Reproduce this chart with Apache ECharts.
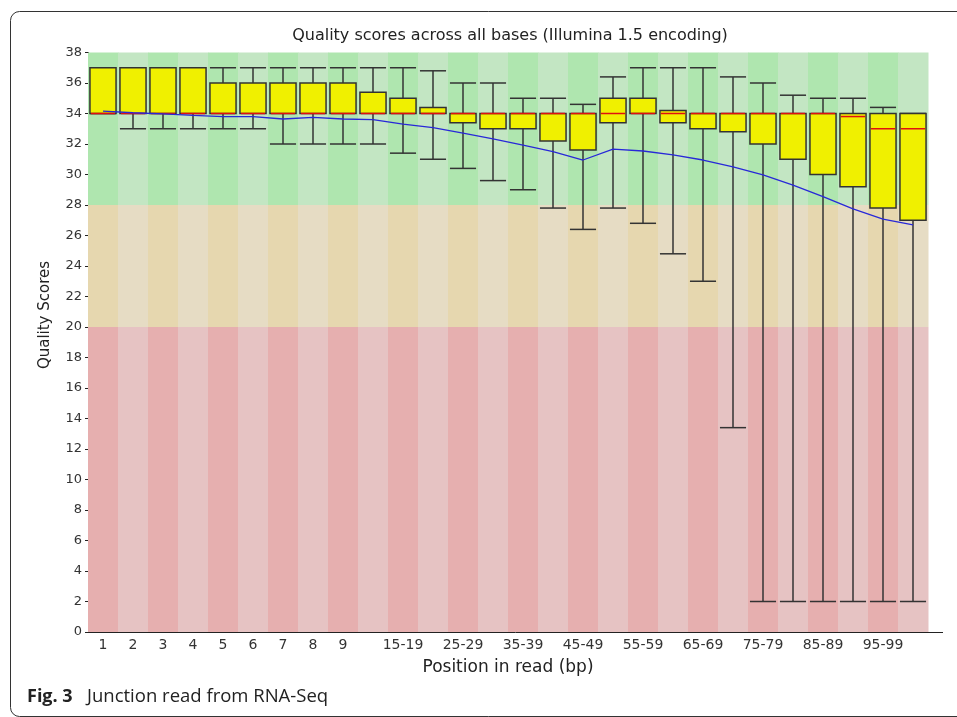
<!DOCTYPE html>
<html><head><meta charset="utf-8">
<script src="https://cdn.jsdelivr.net/npm/echarts@6/dist/echarts.min.js"></script>
<style>html,body{margin:0;padding:0;background:#fff}#c{width:957px;height:717px}</style>
</head><body><div id="c"></div>
<script>
const categories = ['1','2','3','4','5','6','7','8','9','10-14','15-19','20-24','25-29','30-34','35-39','40-44','45-49','50-54','55-59','60-64','65-69','70-74','75-79','80-84','85-89','90-94','95-99','100-101'];
const tickLabels = ['1','2','3','4','5','6','7','8','9','','15-19','','25-29','','35-39','','45-49','','55-59','','65-69','','75-79','','85-89','','95-99',''];
const lowerWhisker = [34,33,33,33,33,33,32,32,32,32,31.4,31.0,30.4,29.6,29.0,27.8,26.4,27.8,26.8,24.8,23,13.4,2,2,2,2,2,2];
const q1 = [34,34,34,34,34,34,34,34,34,34,34,34,33.4,33,33,32.2,31.6,33.4,34,33.4,33,32.8,32,31,30,29.2,27.8,27];
const median = [34,34,34,34,34,34,34,34,34,34,34,34,34,34,34,34,34,34,34,34,34,34,34,34,34,33.8,33,33];
const q3 = [37,37,37,37,36,36,36,36,36,35.4,35,34.4,34,34,34,34,34,35,35,34.2,34,34,34,34,34,34,34,34];
const upperWhisker = [37,37,37,37,37,37,37,37,37,37,37,36.8,36,36,35,35,34.6,36.4,37,37,37,36.4,36,35.2,35,35,34.4,34];
const mean = [34.16,34.05,33.97,33.88,33.8,33.8,33.64,33.75,33.64,33.6,33.3,33.07,32.72,32.33,31.93,31.5,30.95,31.67,31.54,31.28,30.95,30.5,29.97,29.3,28.55,27.74,27.08,26.69];
const yTicks = {min:0, max:38, interval:2};

const zones = [
  {from:0, to:20, colors:['#e6afaf','#e6c3c3']},
  {from:20, to:28, colors:['#e6d7af','#e6dcc4']},
  {from:28, to:38, colors:['#afe6af','#c3e6c3']}
];

const chart = echarts.init(document.getElementById('c'), null, {renderer:'canvas'});
const font = 'DejaVu Sans';

const bgData = categories.map((c,i)=>[i]);
const boxData = categories.map((c,i)=>[i, lowerWhisker[i], q1[i], median[i], q3[i], upperWhisker[i]]);

chart.setOption({
  animation:false,
  backgroundColor:'#fff',
  title:{
    text:'Quality scores across all bases (Illumina 1.5 encoding)',
    left:505, top:23, textAlign:'center',
    textStyle:{fontFamily:font, fontSize:16, fontWeight:'normal', color:'#222'}
  },
  grid:{left:88, right:29, top:52.5, bottom:85},
  xAxis:{
    type:'category', data:categories, boundaryGap:true,
    name:'Position in read (bp)', nameLocation:'middle', nameGap:27,
    nameTextStyle:{fontFamily:font, fontSize:17, color:'#222'},
    axisLine:{show:false}, axisTick:{show:false},
    axisLabel:{interval:0, margin:6, fontFamily:font, fontSize:14, color:'#333',
      formatter:(v,idx)=>tickLabels[idx]},
    splitLine:{show:false}
  },
  yAxis:{
    type:'value', min:yTicks.min, max:yTicks.max, interval:yTicks.interval,
    axisLine:{show:true, lineStyle:{color:'#222', width:1}},
    axisTick:{show:true, length:3, lineStyle:{color:'#222'}},
    axisLabel:{margin:6, fontFamily:font, fontSize:13, color:'#333'},
    splitLine:{show:false}
  },
  series:[
    {
      type:'custom', silent:true, z:1, data:bgData,
      renderItem(params, api){
        const i = api.value(0);
        const w = api.size([1,0])[0];
        const cx = api.coord([i,0])[0];
        return {type:'group', children: zones.map(z=>{
          const top = api.coord([i,z.to])[1], bot = api.coord([i,z.from])[1];
          return {type:'rect', shape:{x:cx-w/2, y:top, width:w+0.5, height:bot-top},
            style:{fill:z.colors[i%2]}};
        })};
      }
    },
    {
      type:'custom', silent:true, z:2, data:boxData,
      renderItem(params, api){
        const i = api.value(0);
        const bw = api.size([1,0])[0]*0.87;
        const x = api.coord([i,0])[0];
        const yl = api.coord([i,api.value(1)])[1];
        const y1 = api.coord([i,api.value(2)])[1];
        const ym = api.coord([i,api.value(3)])[1];
        const y3 = api.coord([i,api.value(4)])[1];
        const yu = api.coord([i,api.value(5)])[1];
        const ls = {stroke:'#333', lineWidth:1.5};
        return {type:'group', children:[
          {type:'line', shape:{x1:x,y1:yu,x2:x,y2:y3}, style:ls},
          {type:'line', shape:{x1:x,y1:y1,x2:x,y2:yl}, style:ls},
          {type:'line', shape:{x1:x-bw/2,y1:yu,x2:x+bw/2,y2:yu}, style:ls},
          {type:'line', shape:{x1:x-bw/2,y1:yl,x2:x+bw/2,y2:yl}, style:ls},
          {type:'rect', shape:{x:x-bw/2, y:y3, width:bw, height:y1-y3}, style:{fill:'#f0f000', stroke:'#333', lineWidth:1.5}},
          {type:'line', shape:{x1:x-bw/2+1,y1:ym,x2:x+bw/2-1,y2:ym}, style:{stroke:'#e01010', lineWidth:1.5}}
        ]};
      }
    },
    {
      type:'line', z:3, data:mean, symbol:'none', silent:true,
      lineStyle:{color:'#2828d8', width:1.3}
    }
  ],
  graphic:[
    {type:'line', shape:{x1:88, y1:632.5, x2:943, y2:632.5}, style:{stroke:'#222', lineWidth:1}, z:10},
    {type:'text', x:45, y:315, rotation:Math.PI/2,
      style:{text:'Quality Scores', fontFamily:font, fontSize:15, fill:'#222', textAlign:'center', textVerticalAlign:'middle'}},
    {type:'rect', shape:{x:10.5, y:11.5, width:1000, height:705, r:9}, style:{fill:'none', stroke:'#333', lineWidth:1}, silent:true},
    {type:'text', x:27, y:697,
      style:{text:'{b|Fig. 3}{n|Junction read from RNA-Seq}', textVerticalAlign:'middle',
        rich:{b:{fontFamily:'Open Sans', fontWeight:'bold', fontSize:18, fill:'#222', width:60},
              n:{fontFamily:'Open Sans', fontSize:18.5, fill:'#222'}}}}
  ]
});
</script></body></html>
